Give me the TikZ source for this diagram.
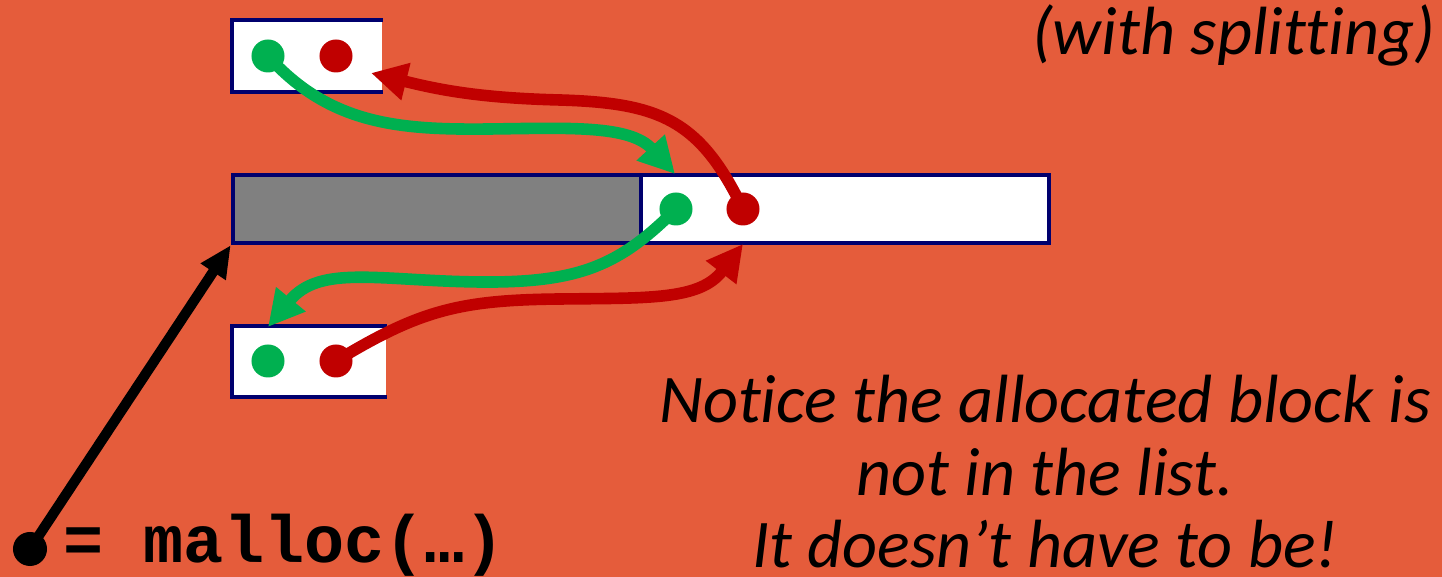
\documentclass[tikz,border=0pt]{standalone}
\usepackage{fontspec}
\setmainfont{Carlito}[Ligatures=NoCommon]
\setmonofont{Liberation Mono}
\usetikzlibrary{arrows.meta}
\definecolor{slidebg}{RGB}{229,92,59}
\definecolor{ptrgreen}{RGB}{0,176,80}
\definecolor{ptrred}{RGB}{192,0,0}
\definecolor{navyrim}{RGB}{0,0,110}
\definecolor{usedgray}{RGB}{128,128,128}

\tikzset{
  blk/.style={fill=white,inner sep=0pt,minimum height=0.7cm},
  rim/.style={draw=navyrim,line width=1.2pt},
  gdot/.style={circle,fill=ptrgreen,inner sep=0pt,minimum size=0.33cm},
  rdot/.style={circle,fill=ptrred,inner sep=0pt,minimum size=0.33cm},
  glink/.style={draw=ptrgreen,line width=3.3pt,-{Triangle[length=0.36cm,width=0.36cm]}},
  rlink/.style={draw=ptrred,line width=3.3pt,-{Triangle[length=0.36cm,width=0.36cm]}},
  slidetext/.style={font=\itshape\fontsize{19.4}{20.6}\selectfont,inner sep=0pt}
}

\begin{document}
\begin{tikzpicture}[x=0.01cm,y=-0.01cm]
\fill[slidebg] (0,0) rectangle (1442,577);
\useasboundingbox (0,0) rectangle (1442,577);
\node[blk,minimum width=1.49cm] (topblk) at (307.5,56) {};
\draw[rim] (topblk.north east) -| (topblk.south west) -- (topblk.south east);
\node[blk,minimum width=1.53cm,minimum height=0.69cm] (botblk) at (309.5,361.5) {};
\draw[rim] (botblk.north east) -| (botblk.south west) -- (botblk.south east);
\node[rim,fill=usedgray,inner sep=0pt,minimum width=4.08cm,minimum height=0.68cm] (used) at (437,209) {};
\node[rim,fill=white,inner sep=0pt,minimum width=4.08cm,minimum height=0.68cm] (free) at (845,209) {};
\node[gdot] (g1) at (268,56) {};
\node[rdot] (r1) at (336,56) {};
\node[gdot] (g2) at (676,209) {};
\node[rdot] (r2) at (743,209) {};
\node[gdot] (g3) at (268,361) {};
\node[rdot] (r3) at (336,361) {};
\coordinate (gin) at (675,174);
\coordinate (rin) at (371,73);
\coordinate (gout) at (268,327);
\coordinate (rout) at (743,244);
\draw[glink] (g1.center) .. controls (330,125) and (400,130) .. (490,129)
  .. controls (570,128) and (630,125) .. (gin);
\draw[rlink] (r2.center) .. controls (700,120) and (660,103) .. (560,100)
  .. controls (480,98) and (440,90) .. (rin);
\draw[glink] (g2.center) .. controls (620,265) and (580,283) .. (480,282)
  .. controls (380,281) and (320,264) .. (gout);
\draw[rlink] (r3.center) .. controls (420,310) and (460,300) .. (560,299)
  .. controls (650,298) and (700,300) .. (rout);
\node[circle,fill=black,inner sep=0pt,minimum size=0.34cm] (ptr) at (30,549) {};
\draw[line width=2.9pt,-{Triangle[length=0.32cm,width=0.28cm]}] (ptr.center) -- (used.south west);
\node[anchor=base west,inner sep=0pt,font=\ttfamily\bfseries\fontsize{19}{20}\selectfont] (call) at (63,563) {= malloc(…)};
\node[slidetext,anchor=base east] (split) at (1436,55) {(with splitting)};
\node[slidetext,align=center] (note) at (1045,472) {Notice the allocated block is\\not in the list.\\It doesn’t have to be!};
\end{tikzpicture}
\end{document}
